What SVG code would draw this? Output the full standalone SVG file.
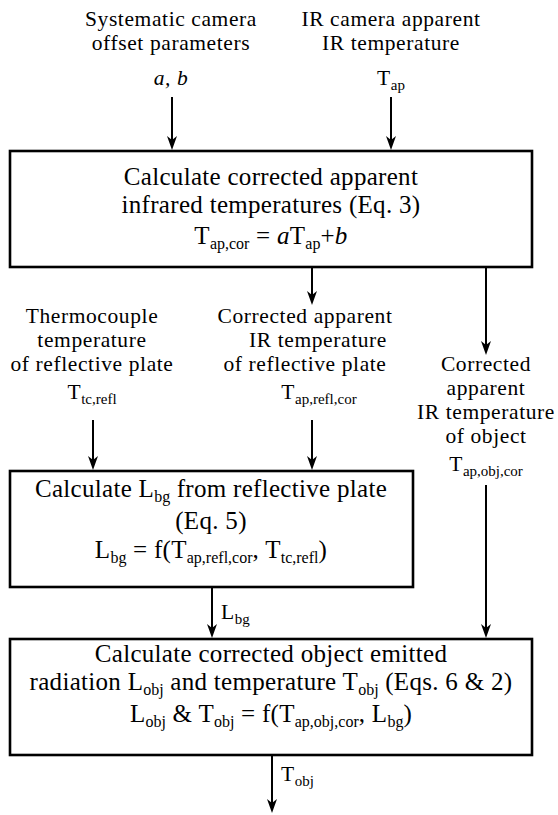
<svg xmlns="http://www.w3.org/2000/svg" width="558" height="815" viewBox="0 0 558 815">
<style>
.t{font-family:"Liberation Serif","Times New Roman",serif;font-size:21.5px;letter-spacing:0.6px;fill:#000;text-anchor:middle}
.b{font-size:25px;letter-spacing:0.3px}
.s{font-size:15px;letter-spacing:0}
.bs{font-size:16px;letter-spacing:0}
.i{font-style:italic}
.st{text-anchor:start}
.box{fill:#fff;stroke:#000;stroke-width:2.6}
.ln{stroke:#000;stroke-width:2;fill:none;marker-end:url(#ah)}
</style>
<defs>
<marker id="ah" viewBox="0 0 14 10" refX="6" refY="5" markerWidth="14" markerHeight="10" markerUnits="userSpaceOnUse" orient="auto">
<path d="M0,0 L14,5 L0,10 L4,5 Z" fill="#000"/>
</marker>
</defs>
<rect width="558" height="815" fill="#fff"/>

<g id="in-ab">
<text class="t" x="171" y="26">Systematic camera</text>
<text class="t" x="171" y="50">offset parameters</text>
<text class="t i" x="171" y="85">a, b</text>
</g>
<g id="in-tap">
<text class="t" x="391" y="26">IR camera apparent</text>
<text class="t" x="391" y="50">IR temperature</text>
<text class="t" x="391" y="85">T<tspan class="s" dy="5">ap</tspan></text>
</g>

<g id="box1">
<rect class="box" x="10" y="151" width="522" height="116"/>
<text class="t b" x="271" y="185">Calculate corrected apparent</text>
<text class="t b" x="271" y="213">infrared temperatures (Eq. 3)</text>
<text class="t b" x="271" y="244">T<tspan class="bs" dy="5">ap,cor</tspan><tspan dy="-5"> = </tspan><tspan class="i">a</tspan>T<tspan class="bs" dy="5">ap</tspan><tspan dy="-5">+</tspan><tspan class="i">b</tspan></text>
</g>

<g id="in-tc">
<text class="t" x="92" y="323">Thermocouple</text>
<text class="t" x="92" y="347">temperature</text>
<text class="t" x="92" y="371">of reflective plate</text>
<text class="t" x="92" y="399">T<tspan class="s" dy="5">tc,refl</tspan></text>
</g>
<g id="in-refl">
<text class="t" x="305" y="323">Corrected apparent</text>
<text class="t" x="318" y="347">IR temperature</text>
<text class="t" x="305" y="371">of reflective plate</text>
<text class="t" x="319" y="399">T<tspan class="s" dy="5">ap,refl,cor</tspan></text>
</g>
<g id="in-obj">
<text class="t" x="486" y="371">Corrected</text>
<text class="t" x="486" y="395">apparent</text>
<text class="t" x="486" y="419">IR temperature</text>
<text class="t" x="486" y="443">of object</text>
<text class="t" x="486" y="471">T<tspan class="s" dy="5">ap,obj,cor</tspan></text>
</g>

<g id="box2">
<rect class="box" x="10" y="471" width="403" height="116"/>
<text class="t b" x="211" y="497">Calculate L<tspan class="bs" dy="5">bg</tspan><tspan dy="-5"> from reflective plate</tspan></text>
<text class="t b" x="211" y="529">(Eq. 5)</text>
<text class="t b" x="211" y="558">L<tspan class="bs" dy="5">bg</tspan><tspan dy="-5"> = f(T</tspan><tspan class="bs" dy="5">ap,refl,cor</tspan><tspan dy="-5">, T</tspan><tspan class="bs" dy="5">tc,refl</tspan><tspan dy="-5">)</tspan></text>
</g>

<g id="box3">
<rect class="box" x="10" y="639" width="522" height="116"/>
<text class="t b" x="271" y="662">Calculate corrected object emitted</text>
<text class="t b" x="271" y="690">radiation L<tspan class="bs" dy="5">obj</tspan><tspan dy="-5"> and temperature T</tspan><tspan class="bs" dy="5">obj</tspan><tspan dy="-5"> (Eqs. 6 &amp; 2)</tspan></text>
<text class="t b" x="271" y="722">L<tspan class="bs" dy="5">obj</tspan><tspan dy="-5"> &amp; T</tspan><tspan class="bs" dy="5">obj</tspan><tspan dy="-5"> = f(T</tspan><tspan class="bs" dy="5">ap,obj,cor</tspan><tspan dy="-5">, L</tspan><tspan class="bs" dy="5">bg</tspan><tspan dy="-5">)</tspan></text>
</g>

<g id="connectors">
<line class="ln" x1="172" y1="97" x2="172" y2="142"/>
<line class="ln" x1="391" y1="97" x2="391" y2="142"/>
<line class="ln" x1="312" y1="267" x2="312" y2="297"/>
<line class="ln" x1="486" y1="267" x2="486" y2="347"/>
<line class="ln" x1="93" y1="420" x2="93" y2="462"/>
<line class="ln" x1="312" y1="420" x2="312" y2="462"/>
<line class="ln" x1="212" y1="587" x2="212" y2="630"/>
<line class="ln" x1="486" y1="485" x2="486" y2="630"/>
<line class="ln" x1="272" y1="755" x2="272" y2="805"/>
<text class="t st" x="221" y="619">L<tspan class="s" dy="5">bg</tspan></text>
<text class="t st" x="281" y="781">T<tspan class="s" dy="5">obj</tspan></text>
</g>
</svg>
